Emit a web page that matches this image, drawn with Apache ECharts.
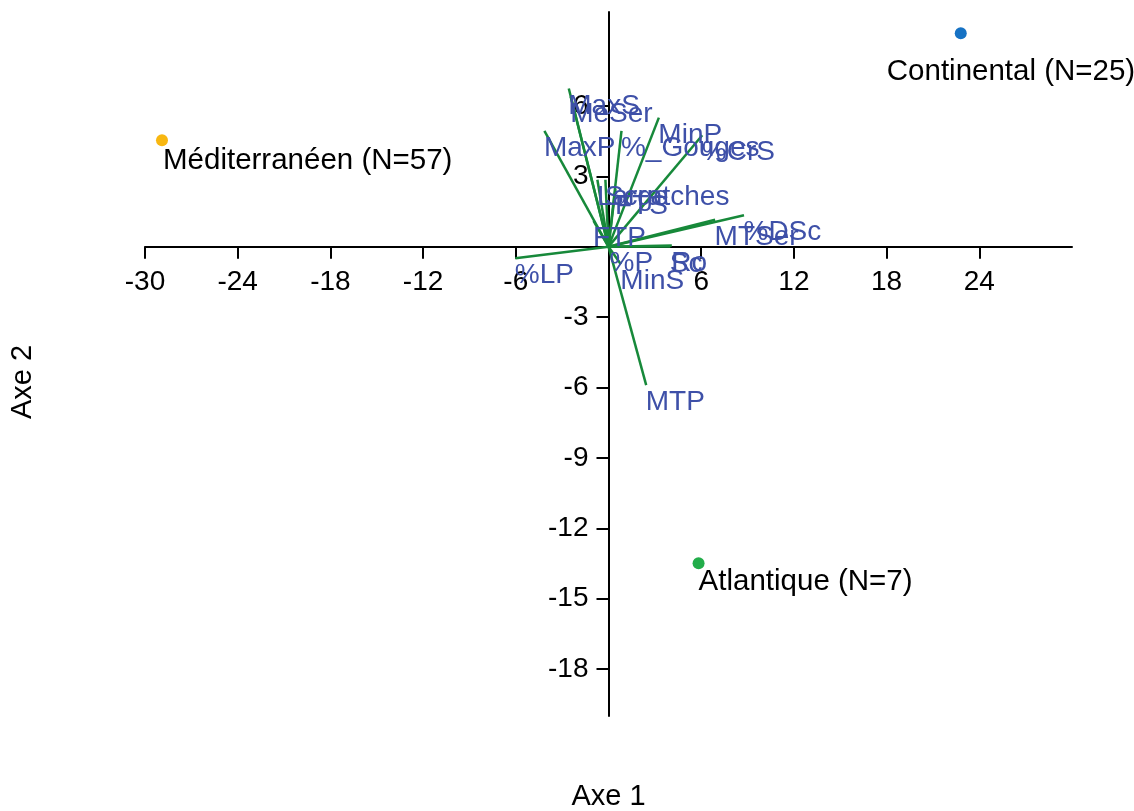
<!DOCTYPE html>
<html>
<head>
<meta charset="utf-8">
<script src="https://cdn.jsdelivr.net/npm/echarts@6/dist/echarts.min.js"></script>
<style>
html,body{margin:0;padding:0;background:#fff;}
#chart{width:1134px;height:811px;}
</style>
</head>
<body>
<div id="chart"></div>
<script>
// ---- data ----
const xTicks = [-30, -24, -18, -12, -6, 6, 12, 18, 24];
const yTicks = [6, 3, -3, -6, -9, -12, -15, -18];

const groupNames = ['Continental (N=25)', 'Méditerranéen (N=57)', 'Atlantique (N=7)'];
const groupX = [22.8, -28.9, 5.83];
const groupY = [9.09, 4.53, -13.49];

const varNames = ['MaxS', 'MeSer', 'MaxP', '%_Gouges', 'MinP', '%CrS', 'Large', 'Scratches', 'FTS', 'FTP', '%DSc', 'MTSer', '%P', 'Sc', 'Ro', 'MinS', '%LP', 'MTP'];
const varX = [-2.57, -2.45, -4.15, 0.84, 3.26, 6.07, -0.72, -0.2, 0.45, -0.97, 8.77, 6.9, 0.1, 4.0, 4.1, 0.8, -6.03, 2.44];
const varY = [6.74, 6.4, 4.93, 4.93, 5.5, 4.75, 2.85, 2.85, 2.45, 1.1, 1.34, 1.15, 0.05, 0.0, 0.05, -0.75, -0.49, -5.9];

// ---- styling ----
const FONT = 'Liberation Sans';
const groupColors = ['#1672c4', '#f8b711', '#22ad4a'];
const groupLabelOffset = [[-74, 39], [1, 20], [0, 19]];
const GRID = { left: 145, right: 62, top: 12, bottom: 95 };

const chart = echarts.init(document.getElementById('chart'));

const lineData = varNames.map((n, i) => ({ coords: [[0, 0], [varX[i], varY[i]]] }));
const varLabelData = varNames.map((n, i) => ({ value: [varX[i], varY[i]], name: n }));
const groupData = groupNames.map((n, i) => ({
  value: [groupX[i], groupY[i]], name: n,
  itemStyle: { color: groupColors[i], opacity: 1 },
  label: { offset: groupLabelOffset[i] }
}));

const option = {
  animation: false,
  backgroundColor: '#ffffff',
  grid: Object.assign({ containLabel: false }, GRID),
  xAxis: {
    type: 'value', min: -30, max: 30, interval: 6, position: 'bottom',
    axisLine: { onZero: false, lineStyle: { color: '#000', width: 2 } },
    axisTick: { show: true, length: 12, lineStyle: { color: '#000', width: 2 }, customValues: xTicks },
    axisLabel: { color: '#000', fontSize: 28, fontFamily: FONT, margin: 22, customValues: xTicks },
    splitLine: { show: false }
  },
  yAxis: {
    type: 'value', min: -20, max: 10, interval: 3, position: 'left',
    axisLine: { onZero: false, lineStyle: { color: '#000', width: 2 } },
    axisTick: { show: true, length: 12, lineStyle: { color: '#000', width: 2 }, customValues: yTicks },
    axisLabel: { color: '#000', fontSize: 28, fontFamily: FONT, margin: 20, customValues: yTicks },
    splitLine: { show: false }
  },
  graphic: [
    { type: 'text', id: 'axe1', x: 608, y: 782, style: { text: 'Axe 1', fontSize: 29, fontFamily: FONT, fill: '#000', align: 'center', verticalAlign: 'top' } },
    { type: 'text', id: 'axe2', x: 8, y: 382, rotation: Math.PI / 2, style: { text: 'Axe 2', fontSize: 29, fontFamily: FONT, fill: '#000', align: 'center', verticalAlign: 'top' } }
  ],
  series: [
    {
      type: 'lines', coordinateSystem: 'cartesian2d', z: 3,
      polyline: false,
      lineStyle: { color: '#17893a', width: 2.5, opacity: 1 },
      data: lineData, silent: true
    },
    {
      type: 'scatter', z: 4, symbolSize: 1,
      itemStyle: { color: 'rgba(0,0,0,0)', opacity: 1 },
      label: {
        show: true, position: [0, 0], offset: [0, 18], align: 'left', verticalAlign: 'middle',
        formatter: p => p.name, color: '#3e50a8', fontSize: 28, fontFamily: FONT
      },
      data: varLabelData
    },
    {
      type: 'scatter', z: 5, symbolSize: 12,
      itemStyle: { opacity: 1 },
      label: {
        show: true, position: [6, 6], align: 'left', verticalAlign: 'middle',
        formatter: p => p.name, color: '#000', fontSize: 29.5, fontFamily: FONT
      },
      data: groupData
    }
  ]
};
chart.setOption(option);

// place the axes so they cross at the origin (via the library's own scale)
const origin = chart.convertToPixel({ gridIndex: 0 }, [0, 0]);
const H = chart.getHeight();
chart.setOption({
  xAxis: { offset: -((H - GRID.bottom) - origin[1]) },
  yAxis: { offset: -(origin[0] - GRID.left) },
  graphic: [{ id: 'axe1', x: origin[0] }]
});
</script>
</body>
</html>
